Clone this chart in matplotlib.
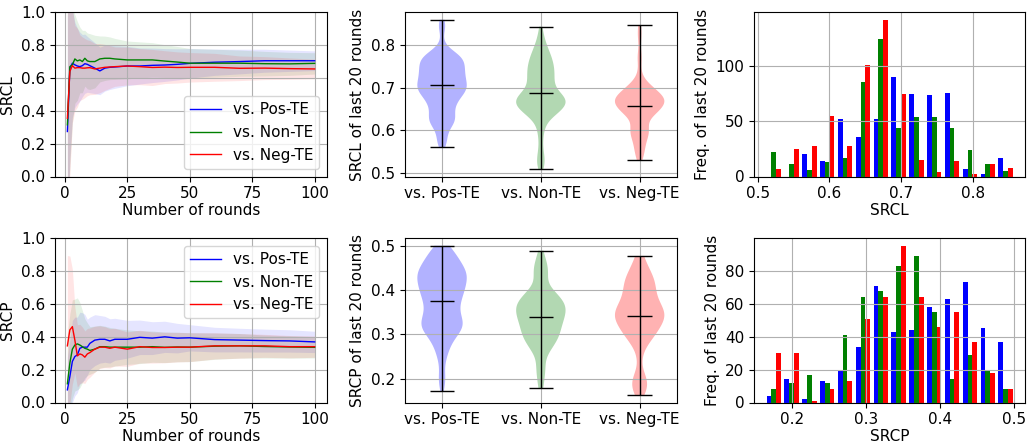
import numpy as np
import matplotlib
matplotlib.use("Agg")
import matplotlib.pyplot as plt
from matplotlib import mlab
from matplotlib.ticker import MultipleLocator

plt.rcParams['font.size'] = 11

# --- data ---
names = ["vs. Pos-TE", "vs. Non-TE", "vs. Neg-TE"]
colors = ["blue", "green", "red"]

rounds = [1, 2, 3, 4, 5, 6, 7, 8, 9, 10, 12, 14, 16, 18, 20, 25, 30, 35, 40, 45, 50, 60, 70, 80, 90, 100]

srcl_pos = [0.274, 0.66, 0.69, 0.68, 0.673, 0.669, 0.675, 0.687, 0.683, 0.675, 0.66, 0.643, 0.66, 0.665, 0.667,
            0.673, 0.673, 0.677, 0.679, 0.683, 0.689, 0.696, 0.70, 0.705, 0.705, 0.705]
srcl_non = [0.315, 0.669, 0.68, 0.716, 0.704, 0.71, 0.70, 0.72, 0.704, 0.70, 0.70, 0.716, 0.72, 0.72, 0.716,
            0.71, 0.71, 0.71, 0.703, 0.697, 0.69, 0.69, 0.69, 0.687, 0.686, 0.689]
srcl_neg = [0.355, 0.64, 0.675, 0.66, 0.663, 0.663, 0.66, 0.66, 0.662, 0.663, 0.655, 0.66, 0.665, 0.667, 0.669,
            0.673, 0.669, 0.664, 0.666, 0.664, 0.665, 0.665, 0.659, 0.66, 0.657, 0.655]
srcl_pos_std = [0.7, 0.55, 0.33, 0.26, 0.23, 0.21, 0.19, 0.18, 0.17, 0.165, 0.155, 0.145, 0.14, 0.135, 0.13,
                0.12, 0.11, 0.105, 0.1, 0.095, 0.09, 0.08, 0.075, 0.07, 0.065, 0.06]
srcl_non_std = [0.7, 0.6, 0.35, 0.27, 0.24, 0.2, 0.19, 0.17, 0.17, 0.17, 0.16, 0.14, 0.135, 0.13, 0.125,
                0.115, 0.11, 0.105, 0.1, 0.095, 0.09, 0.085, 0.08, 0.075, 0.07, 0.065]
srcl_neg_std = [0.7, 0.62, 0.35, 0.26, 0.24, 0.2, 0.19, 0.18, 0.17, 0.165, 0.155, 0.15, 0.14, 0.13, 0.12,
                0.115, 0.11, 0.11, 0.1, 0.095, 0.09, 0.085, 0.075, 0.07, 0.065, 0.06]

srcp_pos = [0.077, 0.158, 0.25, 0.28, 0.29, 0.33, 0.337, 0.337, 0.337, 0.36, 0.38, 0.385, 0.385, 0.375, 0.385,
            0.385, 0.397, 0.392, 0.40, 0.392, 0.394, 0.383, 0.38, 0.377, 0.375, 0.369]
srcp_non = [0.114, 0.24, 0.325, 0.35, 0.357, 0.35, 0.34, 0.33, 0.325, 0.317, 0.325, 0.34, 0.34, 0.337, 0.337,
            0.337, 0.337, 0.34, 0.336, 0.338, 0.337, 0.343, 0.345, 0.341, 0.338, 0.336]
srcp_neg = [0.345, 0.442, 0.462, 0.38, 0.284, 0.296, 0.29, 0.276, 0.296, 0.304, 0.325, 0.337, 0.337, 0.33, 0.337,
            0.325, 0.34, 0.335, 0.335, 0.337, 0.337, 0.345, 0.345, 0.345, 0.34, 0.34]
srcp_pos_std = [0.2, 0.22, 0.25, 0.24, 0.23, 0.22, 0.21, 0.2, 0.17, 0.16, 0.155, 0.145, 0.14, 0.135, 0.128,
                0.115, 0.105, 0.1, 0.095, 0.09, 0.08, 0.075, 0.072, 0.07, 0.068, 0.065]
srcp_non_std = [0.3, 0.3, 0.3, 0.28, 0.28, 0.26, 0.22, 0.18, 0.16, 0.145, 0.14, 0.13, 0.125, 0.12, 0.115,
                0.105, 0.1, 0.095, 0.093, 0.09, 0.088, 0.08, 0.075, 0.07, 0.068, 0.065]
srcp_neg_std = [0.55, 0.45, 0.35, 0.2, 0.19, 0.18, 0.17, 0.16, 0.155, 0.15, 0.14, 0.13, 0.125, 0.12, 0.115,
                0.105, 0.1, 0.095, 0.093, 0.09, 0.088, 0.08, 0.075, 0.07, 0.068, 0.065]

# last 20 rounds: histogram counts (14 bins) and violin min / max / centre line
srcl_range = (0.51, 0.858)
srcl_cnt_pos = [0, 0, 20, 14, 52, 36, 52, 90, 75, 74, 76, 7, 2, 17]
srcl_cnt_non = [22, 11, 6, 13, 17, 86, 125, 44, 54, 54, 44, 24, 11, 5]
srcl_cnt_neg = [7, 25, 28, 55, 28, 101, 142, 75, 15, 4, 14, 2, 11, 8]
srcl_min = [0.561, 0.510, 0.531]
srcl_max = [0.858, 0.842, 0.846]
srcl_mid = [0.705, 0.687, 0.656]

srcp_range = (0.163, 0.500)
srcp_cnt_pos = [4, 14, 2, 13, 19, 34, 71, 43, 44, 58, 63, 73, 45, 37]
srcp_cnt_non = [8, 12, 17, 12, 41, 64, 68, 83, 89, 55, 14, 29, 20, 8]
srcp_cnt_neg = [30, 30, 1, 8, 13, 51, 64, 95, 64, 46, 55, 37, 18, 8]
srcp_min = [0.171, 0.178, 0.163]
srcp_max = [0.500, 0.489, 0.477]
srcp_mid = [0.375, 0.339, 0.342]


W, H = 1027, 442
fig = plt.figure(figsize=(W / 100, H / 100), dpi=100)

col_x = [55 / W, 405 / W, 754.3 / W]
col_w = [272 / W, 271.7 / W, 270.7 / W]
row_y = [1 - 176.5 / H, 1 - 402.5 / H]
row_h = 164.2 / H


def line_panel(ax, means, stds, ylabel, legend_loc):
    x = np.array(rounds)
    for m, s, c, n in zip(means, stds, colors, names):
        m = np.array(m)
        s = np.array(s)
        ax.fill_between(x, m - s, m + s, color=c, alpha=0.1, linewidth=0)
        ax.plot(x, m, color=c, linewidth=1, label=n)
    ax.set_ylim(0, 1)
    ax.set_xticks([0, 25, 50, 75, 100])
    ax.set_ylabel(ylabel)
    ax.set_xlabel("Number of rounds", labelpad=1)
    ax.grid(True)
    ax.legend(loc=legend_loc)


def violin_panel(ax, counts, rng, vmin, vmax, vmid, ylabel):
    edges = np.linspace(rng[0], rng[1], len(counts[0]) + 1)
    centers = (edges[:-1] + edges[1:]) / 2
    stats = []
    for cnt, lo, hi, mid in zip(counts, vmin, vmax, vmid):
        samples = np.repeat(centers, cnt)
        kde = mlab.GaussianKDE(samples)
        coords = np.linspace(lo, hi, 200)
        stats.append(dict(coords=coords, vals=kde.evaluate(coords), mean=mid, median=mid, min=lo, max=hi))
    parts = ax.violin(stats, positions=[1, 2, 3], showmeans=True, showextrema=True)
    for body, c in zip(parts['bodies'], colors):
        body.set_facecolor(c)
        body.set_edgecolor('none')
        body.set_alpha(0.3)
    for key in ['cmeans', 'cmins', 'cmaxes', 'cbars']:
        parts[key].set_color('black')
        parts[key].set_linewidth(1)
    ax.set_xticks([1, 2, 3])
    ax.set_xticklabels(names)
    ax.yaxis.set_major_locator(MultipleLocator(0.1))
    ax.set_ylabel(ylabel)
    ax.grid(True)


def hist_panel(ax, counts, rng, xlabel, ystep):
    edges = np.linspace(rng[0], rng[1], len(counts[0]) + 1)
    centers = (edges[:-1] + edges[1:]) / 2
    ax.hist([centers] * 3, bins=edges, weights=counts, color=colors)
    ax.xaxis.set_major_locator(MultipleLocator(0.1))
    ax.yaxis.set_major_locator(MultipleLocator(ystep))
    ax.set_xlabel(xlabel, labelpad=1)
    ax.set_ylabel("Freq. of last 20 rounds")
    ax.grid(True)


ax = fig.add_axes([col_x[0], row_y[0], col_w[0], row_h])
line_panel(ax, [srcl_pos, srcl_non, srcl_neg], [srcl_pos_std, srcl_non_std, srcl_neg_std], "SRCL", "lower right")
ax = fig.add_axes([col_x[1], row_y[0], col_w[1], row_h])
violin_panel(ax, [srcl_cnt_pos, srcl_cnt_non, srcl_cnt_neg], srcl_range, srcl_min, srcl_max, srcl_mid,
             "SRCL of last 20 rounds")
ax = fig.add_axes([col_x[2], row_y[0], col_w[2], row_h])
hist_panel(ax, [srcl_cnt_pos, srcl_cnt_non, srcl_cnt_neg], srcl_range, "SRCL", 50)

ax = fig.add_axes([col_x[0], row_y[1], col_w[0], row_h])
line_panel(ax, [srcp_pos, srcp_non, srcp_neg], [srcp_pos_std, srcp_non_std, srcp_neg_std], "SRCP", "upper right")
ax = fig.add_axes([col_x[1], row_y[1], col_w[1], row_h])
violin_panel(ax, [srcp_cnt_pos, srcp_cnt_non, srcp_cnt_neg], srcp_range, srcp_min, srcp_max, srcp_mid,
             "SRCP of last 20 rounds")
ax = fig.add_axes([col_x[2], row_y[1], col_w[2], row_h])
hist_panel(ax, [srcp_cnt_pos, srcp_cnt_non, srcp_cnt_neg], srcp_range, "SRCP", 20)

fig.savefig("out.png", dpi=100)
